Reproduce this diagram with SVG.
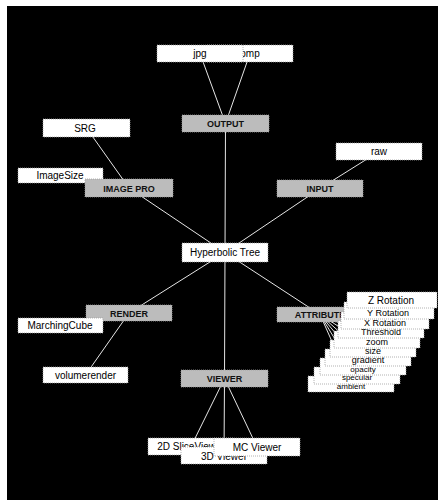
<svg xmlns="http://www.w3.org/2000/svg" width="439" height="500" viewBox="0 0 439 500">
<defs>
<style>
.w{fill:#ffffff;stroke:#a0a0a0;stroke-width:0.8;stroke-dasharray:1 1}
.g{fill:#bcbcbc;stroke:#a0a0a0;stroke-width:0.8;stroke-dasharray:1 1}
.t{font-family:"Liberation Sans",Arial,sans-serif;font-size:10px;fill:#000;text-anchor:middle}
.ta{font-family:"Liberation Sans",Arial,sans-serif;font-size:9px;fill:#000;text-anchor:middle}
.tb{font-family:"Liberation Sans",Arial,sans-serif;font-size:8px;fill:#000;text-anchor:middle}
.tg{font-family:"Liberation Sans",Arial,sans-serif;font-size:9px;font-weight:bold;fill:#111;text-anchor:middle}
.c line{stroke:#e6e6e6;stroke-width:1}
</style>
</defs>
<rect width="439" height="500" fill="#ffffff"/>
<rect x="7" y="6" width="431" height="494" fill="#000000"/>
<g id="connectors" class="c">
<line x1="200" y1="53.5" x2="225.5" y2="123.5"/>
<line x1="250" y1="53.5" x2="225.5" y2="123.5"/>
<line x1="225.5" y1="123.5" x2="225" y2="252.5"/>
<line x1="86.5" y1="128" x2="129" y2="188"/>
<line x1="60.5" y1="175.5" x2="129" y2="188"/>
<line x1="129" y1="188" x2="225" y2="252.5"/>
<line x1="379" y1="151.5" x2="320" y2="188.5"/>
<line x1="320" y1="188.5" x2="225" y2="252.5"/>
<line x1="225" y1="252.5" x2="129" y2="313"/>
<line x1="129" y1="313" x2="60.5" y2="325.5"/>
<line x1="129" y1="313" x2="85.5" y2="375"/>
<line x1="225" y1="252.5" x2="224.5" y2="378.5"/>
<line x1="225" y1="252.5" x2="320" y2="314.5"/>
<line x1="224.5" y1="378.5" x2="191" y2="446.5"/>
<line x1="224.5" y1="378.5" x2="224" y2="455.5"/>
<line x1="224.5" y1="378.5" x2="257" y2="447"/>
<line x1="320" y1="314.5" x2="390" y2="300.5"/>
<line x1="320" y1="314.5" x2="387" y2="310.5"/>
<line x1="320" y1="314.5" x2="384" y2="320.5"/>
<line x1="320" y1="314.5" x2="381" y2="329.5"/>
<line x1="320" y1="314.5" x2="377" y2="339.5"/>
<line x1="320" y1="314.5" x2="373" y2="348.5"/>
<line x1="320" y1="314.5" x2="368" y2="357.5"/>
<line x1="320" y1="314.5" x2="363" y2="366.5"/>
<line x1="320" y1="314.5" x2="357" y2="375.5"/>
<line x1="320" y1="314.5" x2="351" y2="384.5"/>
</g>
<g id="bmp"><rect class="w" x="207" y="45" width="86" height="17"/><text class="t" x="250" y="57">bmp</text></g>
<g id="jpg"><rect class="w" x="157" y="45" width="86" height="17"/><text class="t" x="200" y="57">jpg</text></g>
<g id="output"><rect class="g" x="182" y="115" width="87" height="17"/><text class="tg" x="225.5" y="127">OUTPUT</text></g>
<g id="srg"><rect class="w" x="43" y="119" width="87" height="18"/><text class="t" x="85" y="131.5">SRG</text></g>
<g id="imagesize"><rect class="w" x="18" y="168" width="85" height="15"/><text class="t" x="60" y="179">ImageSize</text></g>
<g id="imagepro"><rect class="g" x="85" y="179" width="88" height="18"/><text class="tg" x="129" y="191.5">IMAGE PRO</text></g>
<g id="raw"><rect class="w" x="336" y="143" width="86" height="17"/><text class="t" x="379" y="155">raw</text></g>
<g id="input"><rect class="g" x="277" y="180" width="86" height="17"/><text class="tg" x="320" y="192">INPUT</text></g>
<g id="hyperbolic"><rect class="w" x="182" y="243" width="86" height="19"/><text class="t" x="225" y="256">Hyperbolic Tree</text></g>
<g id="render"><rect class="g" x="86" y="305" width="86" height="16"/><text class="tg" x="129" y="316.5">RENDER</text></g>
<g id="marchingcube"><rect class="w" x="18" y="318" width="85" height="15"/><text class="t" x="60" y="329">MarchingCube</text></g>
<g id="volumerender"><rect class="w" x="43" y="367" width="85" height="16"/><text class="t" x="85.5" y="378.5">volumerender</text></g>
<g id="viewer"><rect class="g" x="181" y="370" width="87" height="17"/><text class="tg" x="224.5" y="382">VIEWER</text></g>
<g id="slice2d"><rect class="w" x="148" y="438" width="86" height="17"/><text class="t" x="191" y="450">2D SliceViewer</text></g>
<g id="viewer3d"><rect class="w" x="181" y="447" width="86" height="17"/><text class="t" x="224" y="460">3D Viewer</text></g>
<g id="mcviewer"><rect class="w" x="214" y="438" width="86" height="18"/><text class="t" x="257" y="450.5">MC Viewer</text></g>
<g id="attribute"><rect class="g" x="277" y="307" width="86" height="15"/><text class="tg" x="320" y="318">ATTRIBUTE</text></g>
<g id="attr10"><rect class="w" x="308" y="376" width="86" height="16"/><text class="tb" x="351" y="389">ambient</text></g>
<g id="attr9"><rect class="w" x="314" y="367" width="86" height="17"/><text class="tb" x="357" y="380">specular</text></g>
<g id="attr8"><rect class="w" x="320" y="358" width="86" height="17"/><text class="tb" x="363" y="371.5">opacity</text></g>
<g id="attr7"><rect class="w" x="325" y="349" width="86" height="17"/><text class="ta" x="368" y="363">gradient</text></g>
<g id="attr6"><rect class="w" x="330" y="340" width="86" height="17"/><text class="ta" x="373" y="354">size</text></g>
<g id="attr5"><rect class="w" x="334" y="331" width="86" height="17"/><text class="ta" x="377" y="345">zoom</text></g>
<g id="attr4"><rect class="w" x="338" y="321" width="86" height="17"/><text class="ta" x="381" y="335">Threshold</text></g>
<g id="attr3"><rect class="w" x="341" y="312" width="88" height="17"/><text class="ta" x="385" y="326">X Rotation</text></g>
<g id="attr2"><rect class="w" x="344" y="302" width="90" height="17"/><text class="ta" x="388" y="316">Y Rotation</text></g>
<g id="attr1"><rect class="w" x="347" y="292" width="90" height="16"/><text class="t" x="391" y="304">Z Rotation</text></g>
</svg>
